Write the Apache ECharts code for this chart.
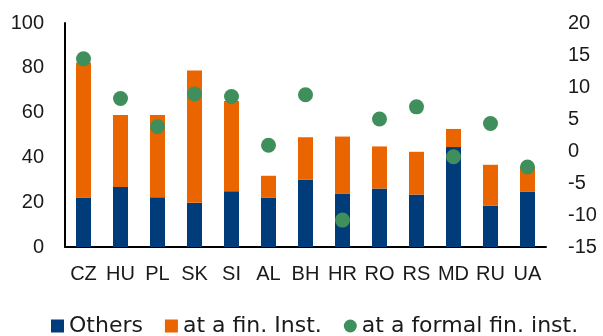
<!DOCTYPE html>
<html><head><meta charset="utf-8">
<script src="https://cdn.jsdelivr.net/npm/echarts@6/dist/echarts.min.js"></script>
<style>html,body{margin:0;padding:0;background:#fff}#c{width:603px;height:336px}</style>
</head><body><div id="c"></div>
<script>
const categories = ['CZ','HU','PL','SK','SI','AL','BH','HR','RO','RS','MD','RU','UA'];
const others = [22.1, 26.8, 22.2, 19.7, 24.9, 22.1, 30.0, 23.9, 26.1, 23.4, 44.6, 18.5, 24.6];
const finInst = [60.1, 32.1, 36.7, 59.1, 40.3, 9.7, 19.0, 25.4, 18.8, 19.1, 8.1, 18.2, 11.4];
const formalFinInst = [14.4, 8.2, 3.8, 8.9, 8.5, 0.9, 8.8, -10.8, 5.0, 6.9, -0.9, 4.3, -2.5];
const leftTicks = {min: 0, max: 100, interval: 20};
const rightTicks = {min: -15, max: 20, interval: 5};

const font = 'Liberation Sans';
const chart = echarts.init(document.getElementById('c'), null, {renderer: 'canvas'});
chart.setOption({
  animation: false,
  textStyle: {fontFamily: font},
  grid: {left: 65, right: 57, top: 23, bottom: 89, containLabel: false},
  legend: {
    left: 46, top: 310, itemWidth: 13, itemHeight: 13, itemGap: 22, itemTextGap: 6,
    textStyle: {fontFamily: 'DejaVu Sans', fontSize: 22, color: '#1a1a1a'},
    data: [
      {name: 'Others', icon: 'rect'},
      {name: 'at a fin. Inst.', icon: 'rect'},
      {name: 'at a formal fin. inst.', icon: 'circle'}
    ]
  },
  xAxis: {
    type: 'category', data: categories,
    axisLine: {lineStyle: {color: '#000', width: 2}},
    axisTick: {show: false},
    axisLabel: {fontFamily: font, fontSize: 20, color: '#1a1a1a', margin: 17, interval: 0}
  },
  yAxis: [
    {type: 'value', min: leftTicks.min, max: leftTicks.max, interval: leftTicks.interval,
     axisLine: {show: true, lineStyle: {color: '#000', width: 2}},
     axisTick: {show: false}, splitLine: {show: false},
     axisLabel: {fontFamily: font, fontSize: 20, color: '#1a1a1a', margin: 21}},
    {type: 'value', min: rightTicks.min, max: rightTicks.max, interval: rightTicks.interval,
     position: 'right',
     axisLine: {show: false}, axisTick: {show: false}, splitLine: {show: false},
     axisLabel: {fontFamily: font, fontSize: 20, color: '#1a1a1a', margin: 22}}
  ],
  series: [
    {name: 'Others', type: 'bar', stack: 's', data: others, barWidth: 15,
     itemStyle: {color: '#003B7A'}},
    {name: 'at a fin. Inst.', type: 'bar', stack: 's', data: finInst, barWidth: 15,
     itemStyle: {color: '#EA6500'}},
    {name: 'at a formal fin. inst.', type: 'scatter', yAxisIndex: 1, data: formalFinInst,
     symbolSize: 15, itemStyle: {color: '#3F8F5C', opacity: 1}, z: 5}
  ]
});
</script></body></html>
